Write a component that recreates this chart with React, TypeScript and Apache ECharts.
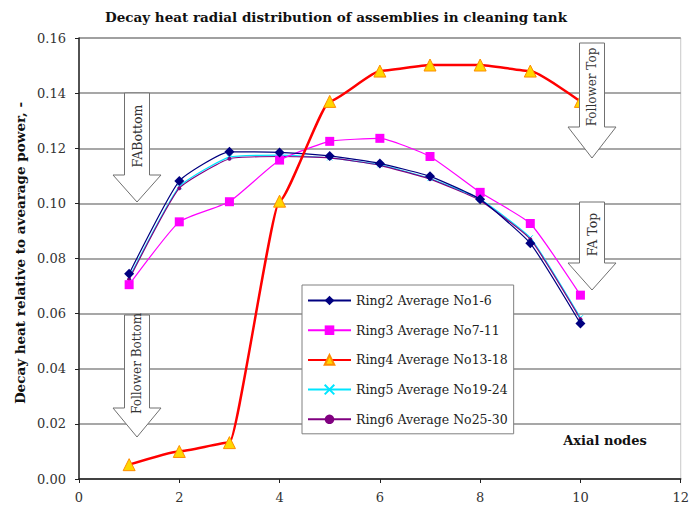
import React, { useEffect, useRef } from "react";
import * as echarts from "echarts";

const nodes = [1, 2, 3, 4, 5, 6, 7, 8, 9, 10];
const ring2 = [0.0745, 0.1081, 0.1187, 0.1185, 0.1172, 0.1145, 0.1098, 0.1015, 0.0855, 0.0564];
const ring3 = [0.0705, 0.0933, 0.1006, 0.1157, 0.1225, 0.1236, 0.117, 0.104, 0.0927, 0.0667];
const ring4 = [0.0052, 0.01, 0.0132, 0.1008, 0.137, 0.148, 0.1502, 0.1502, 0.148, 0.137];
const ring5 = [0.073, 0.106, 0.1168, 0.1175, 0.1165, 0.114, 0.109, 0.1015, 0.0875, 0.0585];
const ring6 = [0.0725, 0.1055, 0.1162, 0.117, 0.1165, 0.1138, 0.1088, 0.101, 0.087, 0.058];
const seriesNames = [
  "Ring2 Average No1-6",
  "Ring3 Average No7-11",
  "Ring4 Average No13-18",
  "Ring5 Average No19-24",
  "Ring6 Average No25-30",
];
const yTicks = { min: 0, max: 0.16, interval: 0.02 };
const xTicks = { min: 0, max: 12, interval: 2 };

const SERIF = "'DejaVu Serif', 'Liberation Serif', serif";

const pair = (vals: number[]) => nodes.map((n, i) => [n, vals[i]]);

const arrow = (cx: number, top: number, headY: number, tipY: number, label: string, fs: number) => {
  const bw = 12.5;
  const hw = 24;
  return [
    {
      type: "polygon",
      z: 100,
      shape: {
        points: [
          [cx - bw, top],
          [cx + bw, top],
          [cx + bw, headY],
          [cx + hw, headY],
          [cx, tipY],
          [cx - hw, headY],
          [cx - bw, headY],
        ],
      },
      style: { fill: "#fff", stroke: "#707070", lineWidth: 1 },
    },
    {
      type: "text",
      z: 101,
      x: cx,
      y: (top + headY) / 2 + 2,
      rotation: Math.PI / 2,
      style: {
        text: label,
        font: `${fs}px ${SERIF}`,
        fill: "#333",
        align: "center",
        verticalAlign: "middle",
      },
    },
  ];
};

export default function App() {
  const ref = useRef<HTMLDivElement>(null);
  useEffect(() => {
    if (!ref.current) return;
    const chart = echarts.init(ref.current, undefined, { renderer: "svg" });
    const xSym = "path://M0,0L10,10M10,0L0,10";
    chart.setOption({
      animation: false,
      backgroundColor: "#fff",
      grid: {
        left: 79,
        right: 9,
        top: 38,
        bottom: 38,
        show: true,
        borderColor: "#c8c8c8",
        borderWidth: 1,
      },
      xAxis: {
        type: "value",
        min: xTicks.min,
        max: xTicks.max,
        interval: xTicks.interval,
        axisLine: { lineStyle: { color: "#222", width: 1.5 } },
        axisTick: { show: true, inside: false, length: 4, lineStyle: { color: "#222" } },
        axisLabel: { fontFamily: SERIF, fontSize: 13, color: "#333", margin: 12 },
        splitLine: { show: false },
      },
      yAxis: {
        type: "value",
        min: yTicks.min,
        max: yTicks.max,
        interval: yTicks.interval,
        axisLine: { show: true, lineStyle: { color: "#222", width: 1.5 } },
        axisTick: { show: true, length: 4, lineStyle: { color: "#222" } },
        axisLabel: {
          fontFamily: SERIF,
          fontSize: 13,
          color: "#333",
          margin: 13,
          formatter: (v: number) => v.toFixed(2),
        },
        splitLine: { show: true, lineStyle: { color: "#8a8a8a", width: 1.5 } },
      },
      legend: {
        left: 302,
        top: 285,
        orient: "vertical",
        backgroundColor: "#fff",
        borderColor: "#808080",
        borderWidth: 1,
        borderRadius: 0,
        padding: [9, 6, 8, 5],
        itemWidth: 43,
        itemHeight: 12,
        itemGap: 16.7,
        textStyle: { fontFamily: SERIF, fontSize: 12.5, color: "#222" },
        data: seriesNames,
      },
      graphic: [
        {
          type: "text",
          x: 336,
          y: 17,
          style: {
            text: "Decay heat radial distribution of assemblies in cleaning tank",
            font: `bold 13.5px ${SERIF}`,
            fill: "#111",
            align: "center",
            verticalAlign: "middle",
          },
        },
        {
          type: "text",
          x: 20,
          y: 253,
          rotation: Math.PI / 2,
          style: {
            text: "Decay heat relative to avearage power, -",
            font: `bold 13.5px ${SERIF}`,
            fill: "#111",
            align: "center",
            verticalAlign: "middle",
          },
        },
        {
          type: "text",
          x: 605,
          y: 440,
          style: {
            text: "Axial nodes",
            font: `bold 13px ${SERIF}`,
            fill: "#111",
            align: "center",
            verticalAlign: "middle",
          },
        },
        ...arrow(137, 93, 175, 202, "FABottom", 12.5),
        ...arrow(137, 315, 408, 437, "Follower Bottom", 12),
        ...arrow(592, 43, 127, 158, "Follower Top", 12),
        ...arrow(592, 202, 263, 290, "FA Top", 12.5),
      ],
      series: [
        {
          name: seriesNames[0],
          type: "line",
          smooth: 0.15,
          data: pair(ring2),
          symbol: "diamond",
          symbolSize: 10,
          z: 6,
          lineStyle: { color: "#000080", width: 1.2 },
          itemStyle: { color: "#000080" },
        },
        {
          name: seriesNames[1],
          type: "line",
          smooth: 0.15,
          data: pair(ring3),
          symbol: "rect",
          symbolSize: 9,
          z: 5,
          lineStyle: { color: "#ff00ff", width: 1.2 },
          itemStyle: { color: "#ff00ff" },
        },
        {
          name: seriesNames[2],
          type: "line",
          smooth: 0.15,
          smoothMonotone: "x",
          data: pair(ring4),
          symbol: "triangle",
          symbolSize: 12,
          z: 7,
          lineStyle: { color: "#ff0000", width: 2.5 },
          itemStyle: { color: "#ffd700", borderColor: "#ff8c00", borderWidth: 1 },
        },
        {
          name: seriesNames[3],
          type: "line",
          smooth: 0.15,
          data: pair(ring5),
          symbol: xSym,
          symbolSize: 5,
          z: 4,
          lineStyle: { color: "#00e5ff", width: 1.2 },
          itemStyle: { color: "#00e5ff", borderColor: "#00e5ff", borderWidth: 1 },
        },
        {
          name: seriesNames[4],
          type: "line",
          smooth: 0.15,
          data: pair(ring6),
          symbol: "circle",
          symbolSize: 4,
          z: 4,
          lineStyle: { color: "#800080", width: 1.2 },
          itemStyle: { color: "#800080" },
        },
      ],
    });
    return () => chart.dispose();
  }, []);
  return (
    <div
      ref={ref}
      style={{ position: "absolute", left: 0, top: 0, width: 692, height: 517 }}
    />
  );
}
